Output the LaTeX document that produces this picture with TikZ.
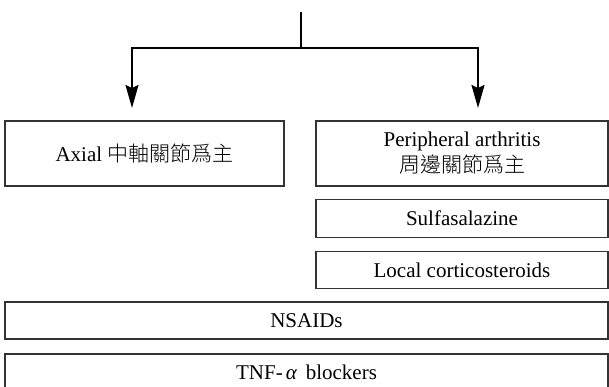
\documentclass[tikz,border=0pt]{standalone}
\usepackage{fontspec}
\setmainfont{Liberation Serif}
\newfontfamily\cjk{Noto Sans CJK TC Light}
\usetikzlibrary{arrows.meta}
\tikzset{
  box/.style={draw=black!80, line width=1.2pt, inner sep=0pt, align=center,
    font=\fontsize{21}{26}\selectfont},
  conn/.style={draw=black, line width=2pt},
  arr/.style={conn, -{Stealth[length=23pt,width=13pt,inset=3pt]}}
}
\begin{document}
\begin{tikzpicture}[x=1pt,y=-1pt]
\useasboundingbox (0,0) rectangle (609,386);
\clip (0,0) rectangle (609,386);
\node[box, minimum width=279pt, minimum height=65pt] (axial) at (144.5,153.5) {Axial {\cjk 中軸關節爲主}};
\node[box, minimum width=292pt, minimum height=65pt] (peri) at (462,153.5) {Peripheral arthritis\\{\cjk 周邊關節爲主}};
\node[box, minimum width=292pt, minimum height=38pt] (sulfa) at (462,218.5) {Sulfasalazine};
\node[box, minimum width=292pt, minimum height=37pt] (local) at (462,270) {Local corticosteroids};
\node[box, minimum width=603pt, minimum height=37pt] (nsaids) at (306.5,320.5) {NSAIDs};
\node[box, minimum width=603pt, minimum height=36pt] (tnf) at (306.5,372) {TNF-\hspace{3pt}{\itshape α}\hspace{9pt}blockers};
\coordinate (top) at (301,12);
\coordinate (split) at (301,48);
\coordinate (aL) at (132,108);
\coordinate (aR) at (478,108);
\draw[conn] (top) -- (split);
\draw[arr] (split) -| (aL);
\draw[arr] (split) -| (aR);
\end{tikzpicture}
\end{document}
